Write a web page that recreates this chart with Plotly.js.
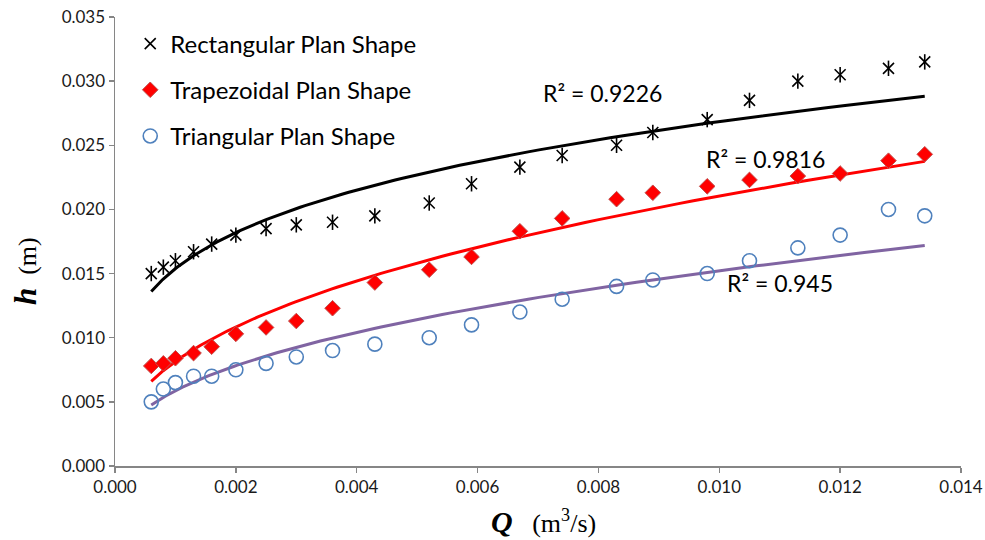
<!DOCTYPE html>
<html>
<head>
<meta charset="utf-8">
<script src="https://cdn.plot.ly/plotly-3.0.1.min.js"></script>
<style>html,body{margin:0;padding:0;background:#fff;}#chart{width:985px;height:540px;}</style>
</head>
<body>
<div id="chart"></div>
<script>
// Discharge Q (m3/s)
const Q = [0.0006,0.0008,0.0010,0.0013,0.0016,0.0020,0.0025,0.0030,0.0036,0.0043,0.0052,0.0059,0.0067,0.0074,0.0083,0.0089,0.0098,0.0105,0.0113,0.0120,0.0128,0.0134];
// Head h (m)
const hRect = [0.0150,0.0155,0.0160,0.0167,0.0173,0.0180,0.0185,0.0188,0.0190,0.0195,0.0205,0.0220,0.0233,0.0242,0.0250,0.0260,0.0270,0.0285,0.0300,0.0305,0.0310,0.0315];
const hTrap = [0.0078,0.0080,0.0084,0.0088,0.0093,0.0103,0.0108,0.0113,0.0123,0.0143,0.0153,0.0163,0.0183,0.0193,0.0208,0.0213,0.0218,0.0223,0.0226,0.0228,0.0238,0.0243];
const hTri  = [0.0050,0.0060,0.0065,0.0070,0.0070,0.0075,0.0080,0.0085,0.0090,0.0095,0.0100,0.0110,0.0120,0.0130,0.0140,0.0145,0.0150,0.0160,0.0170,0.0180,0.0200,0.0195];
const seriesNames = ["Rectangular Plan Shape","Trapezoidal Plan Shape","Triangular Plan Shape"];
const r2Labels = ["R\u00b2 = 0.9226","R\u00b2 = 0.9816","R\u00b2 = 0.945"];
const xTicks = [0,0.002,0.004,0.006,0.008,0.010,0.012,0.014];
const yTicks = [0,0.005,0.010,0.015,0.020,0.025,0.030,0.035];

// Excel-style power trendline: least squares on ln(h) vs ln(Q)
function powerFit(xs, ys){
  const n = xs.length;
  let sx=0, sy=0, sxx=0, sxy=0;
  for(let i=0;i<n;i++){
    const lx=Math.log(xs[i]), ly=Math.log(ys[i]);
    sx+=lx; sy+=ly; sxx+=lx*lx; sxy+=lx*ly;
  }
  const b=(n*sxy-sx*sy)/(n*sxx-sx*sx);
  const a=Math.exp((sy-b*sx)/n);
  const x0=Math.min(...xs), x1=Math.max(...xs);
  const fx=[], fy=[];
  const N=120;
  for(let k=0;k<=N;k++){
    const x=x0*Math.pow(x1/x0,k/N);
    fx.push(x); fy.push(a*Math.pow(x,b));
  }
  return {x:fx,y:fy};
}

const fR = powerFit(Q,hRect), fT = powerFit(Q,hTrap), fTr = powerFit(Q,hTri);

const data = [
  {x:fR.x, y:fR.y, mode:'lines', line:{color:'#000000', width:3}, showlegend:false, hoverinfo:'skip'},
  {x:fT.x, y:fT.y, mode:'lines', line:{color:'#FF0000', width:3}, showlegend:false, hoverinfo:'skip'},
  {x:fTr.x, y:fTr.y, mode:'lines', line:{color:'#8064A2', width:3}, showlegend:false, hoverinfo:'skip'},
  {x:Q, y:hRect, mode:'markers', name:seriesNames[0], legendgroup:'a',
   marker:{symbol:'x-thin-open', size:11, color:'#000000', line:{color:'#000000', width:1.6}}},
  {x:Q, y:hRect, mode:'markers', showlegend:false, legendgroup:'a', hoverinfo:'skip',
   marker:{symbol:'line-ns-open', size:11, color:'#000000', line:{color:'#000000', width:1.6}}},
  {x:Q, y:hTrap, mode:'markers', name:seriesNames[1], legendgroup:'b',
   marker:{symbol:'diamond', size:12, color:'#FF0000', line:{color:'#C0504D', width:1}}},
  {x:Q, y:hTri, mode:'markers', name:seriesNames[2], legendgroup:'c',
   marker:{symbol:'circle-open', size:14, color:'#4F81BD', line:{color:'#4F81BD', width:1.6}}}
];

const sans = 'Lato, "Open Sans", sans-serif';
const serif = '"Liberation Serif", "Times New Roman", serif';
const tickFont = {family:sans, size:17, color:'#1a1a1a'};
const layout = {
  width:985, height:540,
  margin:{l:115, r:24, t:17, b:74, pad:0},
  paper_bgcolor:'#ffffff', plot_bgcolor:'#ffffff',
  showlegend:true,
  legend:{x:0.018, y:0.99, xanchor:'left', yanchor:'top', traceorder:'grouped', tracegroupgap:12,
          font:{family:sans, size:24, color:'#000'}, bgcolor:'rgba(0,0,0,0)', itemwidth:30},
  xaxis:{range:[0,0.014], tickvals:xTicks, ticktext:xTicks.map(v=>v.toFixed(3)), showgrid:false, zeroline:false,
         showline:true, linecolor:'#868686', linewidth:1.5, ticks:'outside', ticklen:5, tickcolor:'#868686', tickwidth:1.5,
         tickfont:tickFont, automargin:false},
  yaxis:{range:[0,0.035], tickvals:yTicks, ticktext:yTicks.map(v=>v.toFixed(3)), showgrid:false, zeroline:false,
         showline:true, linecolor:'#868686', linewidth:1.5, ticks:'outside', ticklen:5, tickcolor:'#868686', tickwidth:1.5,
         tickfont:tickFont, automargin:false},
  annotations:[
    {xref:'x', yref:'y', x:0.00705, y:0.02907, text:r2Labels[0], showarrow:false, xanchor:'left', yanchor:'middle',
     font:{family:sans, size:23, color:'#000'}},
    {xref:'x', yref:'y', x:0.00975, y:0.02392, text:r2Labels[1], showarrow:false, xanchor:'left', yanchor:'middle',
     font:{family:sans, size:23, color:'#000'}},
    {xref:'x', yref:'y', x:0.0101, y:0.01425, text:r2Labels[2], showarrow:false, xanchor:'left', yanchor:'middle',
     font:{family:sans, size:23, color:'#000'}},
    {xref:'paper', yref:'paper', x:0.506, y:-0.123, xanchor:'center', yanchor:'middle', showarrow:false,
     text:'<span style="font-size:30px"><b><i>Q</i></b></span>\u00a0\u00a0\u00a0(m<sup>3</sup>/s)',
     font:{family:serif, size:26, color:'#000'}},
    {xref:'paper', yref:'paper', x:-0.1064, y:0.434, xanchor:'center', yanchor:'middle', showarrow:false, textangle:-90,
     text:'<span style="font-size:31px"><b><i>h</i></b></span>\u00a0\u00a0(m)',
     font:{family:serif, size:26, color:'#000'}}
  ]
};

Plotly.newPlot('chart', data, layout, {displayModeBar:false, staticPlot:true});
</script>
</body>
</html>
